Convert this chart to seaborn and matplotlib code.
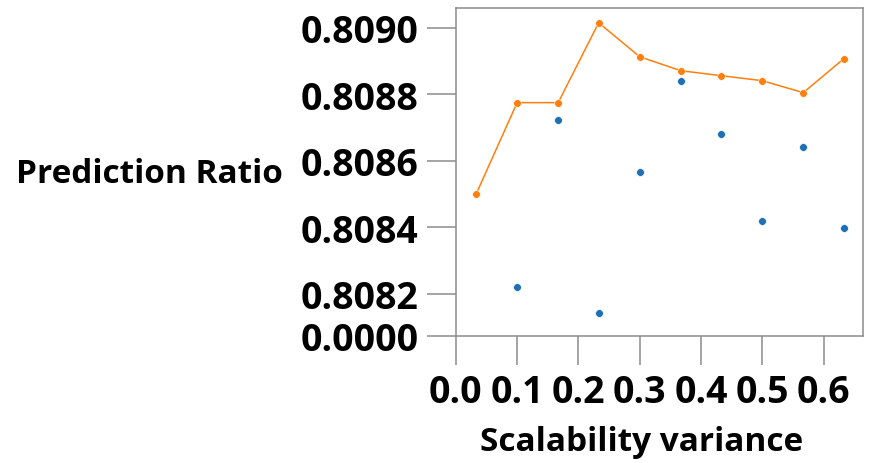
import matplotlib
matplotlib.use("Agg")
import matplotlib.pyplot as plt
import numpy as np
import pandas as pd
import seaborn as sns

# values
variance = [0.033, 0.1, 0.167, 0.233, 0.3, 0.367, 0.433, 0.5, 0.567, 0.633]
best_ratio = [0.80850, 0.808775, 0.808775, 0.809015, 0.808913, 0.808871,
              0.808856, 0.808841, 0.808805, 0.808907]
run_variance = [0.1, 0.167, 0.233, 0.3, 0.367, 0.433, 0.5, 0.567, 0.633]
run_ratio = [0.808221, 0.808724, 0.808143, 0.808566, 0.808841, 0.808682,
             0.808419, 0.808643, 0.808398]

x_ticks = [0.0, 0.1, 0.2, 0.3, 0.4, 0.5, 0.6]
x_labels = ['0.0', '0.1', '0.2', '0.3', '0.4', '0.5', '0.6']
y_ticks = [0.808074, 0.8082, 0.8084, 0.8086, 0.8088, 0.8090]
y_labels = ['0.0000', '0.8082', '0.8084', '0.8086', '0.8088', '0.8090']

sns.set_style("white")
plt.rcParams['font.family'] = ['Open Sans', 'DejaVu Sans']
plt.rcParams['font.weight'] = 'bold'
plt.rcParams['text.color'] = 'black'

df_best = pd.DataFrame({'x': variance, 'y': best_ratio})
df_runs = pd.DataFrame({'x': run_variance, 'y': run_ratio})

fig = plt.figure(figsize=(8.75, 4.64), dpi=100)
ax = fig.add_axes([0.521, 0.274, 0.465, 0.707])

sns.scatterplot(data=df_runs, x='x', y='y', ax=ax, color='#1f6fb4', s=32,
                edgecolor='white', linewidth=0.5, zorder=3)
sns.lineplot(data=df_best, x='x', y='y', ax=ax, color='#ff7f0e', linewidth=1.1,
             marker='o', markersize=5.5, markeredgecolor='white',
             markeredgewidth=0.4, zorder=4)

ax.set_xlim(0, 0.664)
ax.set_ylim(0.808074, 0.80906)
ax.set_xticks(x_ticks)
ax.set_xticklabels(x_labels)
ax.set_yticks(y_ticks)
ax.set_yticklabels(y_labels)

ax.tick_params(axis='both', direction='out', length=21, width=1.1,
               color='#8c8c8c', labelcolor='black', labelsize=27, pad=6,
               bottom=True, left=True)
for lab in ax.get_xticklabels() + ax.get_yticklabels():
    lab.set_fontweight('bold')

for sp in ax.spines.values():
    sp.set_visible(True)
    sp.set_color('#8c8c8c')
    sp.set_linewidth(1.1)

ax.set_xlabel('Scalability variance', fontsize=24, fontweight='bold',
              color='black', va='center')
ax.set_ylabel('Prediction Ratio', fontsize=24, fontweight='bold', rotation=0,
              color='black', ha='right', va='center')
ax.xaxis.set_label_coords(0.457, -0.323)
ax.yaxis.set_label_coords(-0.425, 0.494)

fig.savefig('out.png', dpi=100)
